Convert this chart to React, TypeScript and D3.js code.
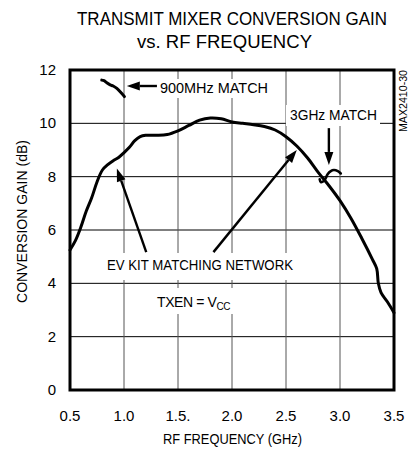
import React from "react";
import * as d3 from "d3";

const freq = [0.5, 0.55, 0.6, 0.65, 0.7, 0.75, 0.8, 0.85, 0.9, 0.95, 1.0, 1.05, 1.1, 1.15, 1.2, 1.3, 1.4, 1.5, 1.6, 1.7, 1.8, 1.9, 2.0, 2.1, 2.2, 2.3, 2.4, 2.5, 2.6, 2.7, 2.8, 2.9, 3.0, 3.1, 3.2, 3.3, 3.34, 3.355, 3.38, 3.44, 3.5];
const gain = [5.25, 5.6, 6.1, 6.7, 7.2, 7.8, 8.25, 8.45, 8.6, 8.72, 8.9, 9.1, 9.35, 9.5, 9.55, 9.55, 9.58, 9.72, 9.92, 10.12, 10.2, 10.17, 10.05, 10.0, 9.95, 9.88, 9.75, 9.5, 9.15, 8.7, 8.15, 7.65, 7.1, 6.45, 5.7, 4.9, 4.55, 4.0, 3.65, 3.3, 2.9];

const match900Freq = [0.794, 0.815, 0.841, 0.872, 0.9, 0.934, 0.98, 1.004];
const match900Gain = [11.62, 11.6, 11.52, 11.44, 11.4, 11.31, 11.12, 11.0];

const match3gFreq = [2.812, 2.822, 2.85, 2.868, 2.887, 2.915, 2.943, 2.98, 3.007];
const match3gGain = [7.9, 7.8, 7.84, 7.95, 8.1, 8.21, 8.25, 8.21, 8.12];

const xTicks = [0.5, 1.0, 1.5, 2.0, 2.5, 3.0, 3.5];
const xTickLabels = ["0.5", "1.0", "1.5.", "2.0", "2.5", "3.0", "3.5"];
const yTicks = [0, 2, 4, 6, 8, 10, 12];
const yTickLabels = ["0", "2", "4", "6", "8", "10", "12"];

const FONT = "'Liberation Sans Narrow', 'Liberation Sans', Arial, sans-serif";

export default function App() {
  const x = d3.scaleLinear().domain([0.5, 3.5]).range([70, 394]);
  const y = d3.scaleLinear().domain([0, 12]).range([390, 70]);

  const line = d3
    .line<[number, number]>()
    .x((d) => x(d[0]))
    .y((d) => y(d[1]))
    .curve(d3.curveCatmullRom.alpha(0.5));

  const mainPts: [number, number][] = freq.map((f, i) => [f, gain[i]]);
  const m900: [number, number][] = match900Freq.map((f, i) => [f, match900Gain[i]]);
  const m3g: [number, number][] = match3gFreq.map((f, i) => [f, match3gGain[i]]);

  const arrow = (f0: number, g0: number, f1: number, g1: number, key: string) => {
    const x0 = x(f0), y0 = y(g0), x1 = x(f1), y1 = y(g1);
    const ang = Math.atan2(y1 - y0, x1 - x0);
    const L = 13, W = 4.5;
    const bx = x1 - L * Math.cos(ang), by = y1 - L * Math.sin(ang);
    const px = -Math.sin(ang) * W, py = Math.cos(ang) * W;
    return (
      <g key={key}>
        <line x1={x0} y1={y0} x2={bx} y2={by} stroke="#000" strokeWidth={2.4} />
        <path d={`M${x1},${y1}L${bx + px},${by + py}L${bx - px},${by - py}Z`} fill="#000" />
      </g>
    );
  };

  const labelBoxes = [
    { x0: 157, x1: 271, y0: 79, y1: 98 },
    { x0: 286, x1: 380, y0: 105, y1: 126 },
    { x0: 103, x1: 297, y0: 253, y1: 280 },
    { x0: 152, x1: 238, y0: 288, y1: 314 },
  ];

  return (
    <svg width={410} height={455} style={{ position: "absolute", left: 0, top: 0, background: "#fff" }}>
      <rect x={0} y={0} width={410} height={455} fill="#fff" />
      <text x={77} y={25} fontFamily={FONT} fontSize={18} textLength={310} lengthAdjust="spacingAndGlyphs" fill="#000">
        TRANSMIT MIXER CONVERSION GAIN
      </text>
      <text x={137} y={48} fontFamily={FONT} fontSize={18} textLength={175} lengthAdjust="spacingAndGlyphs" fill="#000">
        vs. RF FREQUENCY
      </text>

      {yTicks.slice(1, -1).map((t) => (
        <line key={"h" + t} x1={x(0.5)} x2={x(3.5)} y1={y(t)} y2={y(t)} stroke="#000" strokeWidth={1} />
      ))}
      {xTicks.slice(1, -1).map((t) => (
        <line key={"v" + t} x1={x(t)} x2={x(t)} y1={y(12)} y2={y(0)} stroke="#555" strokeWidth={1} />
      ))}

      {labelBoxes.map((b, i) => (
        <rect key={"b" + i} x={b.x0} y={b.y0} width={b.x1 - b.x0} height={b.y1 - b.y0} fill="#fff" />
      ))}

      <text x={160} y={93} fontFamily={FONT} fontSize={14} textLength={108} lengthAdjust="spacingAndGlyphs">900MHz MATCH</text>
      <text x={290} y={120} fontFamily={FONT} fontSize={14} textLength={87} lengthAdjust="spacingAndGlyphs">3GHz MATCH</text>
      <text x={107} y={270} fontFamily={FONT} fontSize={14} textLength={186} lengthAdjust="spacingAndGlyphs">EV KIT MATCHING NETWORK</text>
      <text x={157} y={307} fontFamily={FONT} fontSize={14} letterSpacing={-0.4}>
        TXEN = V<tspan fontSize={10} dy={3}>CC</tspan>
      </text>

      <path d={line(mainPts) || ""} fill="none" stroke="#000" strokeWidth={3} strokeLinejoin="round" strokeLinecap="round" />
      <path d={line(m900) || ""} fill="none" stroke="#000" strokeWidth={3} strokeLinejoin="round" strokeLinecap="round" />
      <path d={line(m3g) || ""} fill="none" stroke="#000" strokeWidth={2.6} strokeLinejoin="round" strokeLinecap="round" />

      {arrow(1.305, 11.4, 1.026, 11.4, "a1")}
      {arrow(1.206, 5.17, 0.934, 8.31, "a2")}
      {arrow(1.828, 5.17, 2.6, 9.0, "a3")}
      {arrow(2.897, 9.82, 2.897, 8.44, "a4")}

      <rect x={x(0.5)} y={y(12)} width={x(3.5) - x(0.5)} height={y(0) - y(12)} fill="none" stroke="#000" strokeWidth={3} />

      {xTicks.map((t, i) => (
        <text key={"xt" + t} x={x(t)} y={421} textAnchor="middle" fontFamily={FONT} fontSize={15}>
          {xTickLabels[i]}
        </text>
      ))}
      {yTicks.map((t, i) => (
        <text key={"yt" + t} x={56} y={y(t) + 5} textAnchor="end" fontFamily={FONT} fontSize={15}>
          {yTickLabels[i]}
        </text>
      ))}

      <text x={163} y={444} fontFamily={FONT} fontSize={15} textLength={139} lengthAdjust="spacingAndGlyphs">
        RF FREQUENCY (GHz)
      </text>
      <text transform="translate(27,303) rotate(-90)" fontFamily={FONT} fontSize={15} textLength={163} lengthAdjust="spacingAndGlyphs">
        CONVERSION GAIN (dB)
      </text>
      <text transform="translate(407,132) rotate(-90)" fontFamily={FONT} fontSize={10} textLength={62} lengthAdjust="spacingAndGlyphs">
        MAX2410-30
      </text>
    </svg>
  );
}
